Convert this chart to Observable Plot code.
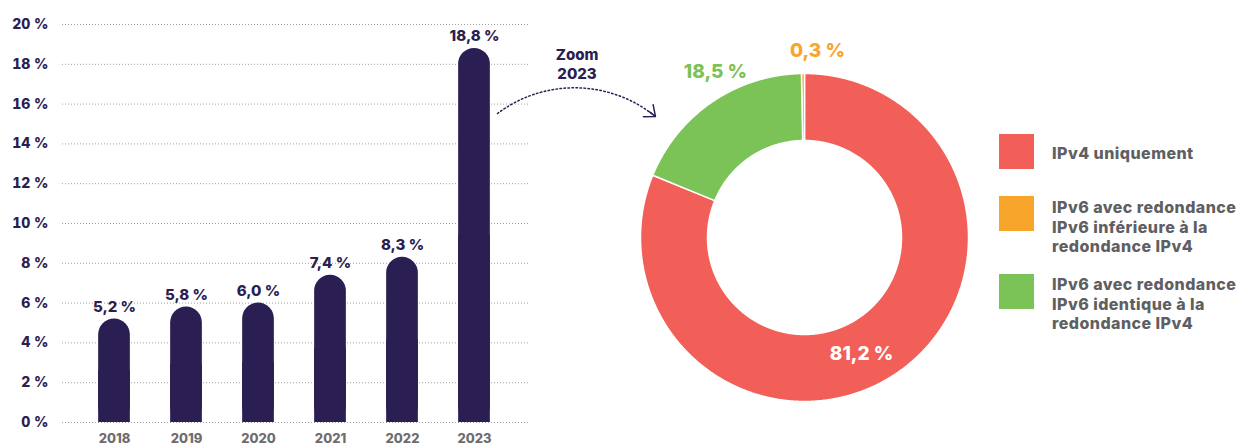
<!DOCTYPE html>
<html><head><meta charset="utf-8">
<script src="https://cdn.jsdelivr.net/npm/d3@7"></script>
<script src="https://cdn.jsdelivr.net/npm/@observablehq/plot@0.6"></script>
<style>
body{margin:0;background:#fff;font-family:Inter,"Noto Sans",sans-serif;}
#root{position:relative;width:1239px;height:448px;overflow:hidden;}
#bars{position:absolute;left:0;top:0;}
#donut{position:absolute;left:490px;top:0;}
.sw{position:absolute;left:999px;width:35px;height:35px;}
.lt{position:absolute;left:1052px;font-weight:800;font-size:16px;line-height:19.5px;color:#5f5f63;white-space:nowrap;letter-spacing:0.45px;}
</style>
</head><body><div id="root"><div id="bars"></div><div id="donut"></div><div id="legend"></div></div>
<script>
// ---- data ----
const years = ["2018", "2019", "2020", "2021", "2022", "2023"];
const shares = [5.2, 5.8, 6.0, 7.4, 8.3, 18.8];
const yTicks = [0, 2, 4, 6, 8, 10, 12, 14, 16, 18, 20];
const categories = [
  "IPv4 uniquement",
  "IPv6 avec redondance IPv6 inférieure à la redondance IPv4",
  "IPv6 avec redondance IPv6 identique à la redondance IPv4"
];
const legendLines = [
  ["IPv4 uniquement"],
  ["IPv6 avec redondance", "IPv6 inférieure à la", "redondance IPv4"],
  ["IPv6 avec redondance", "IPv6 identique à la", "redondance IPv4"]
];
const shares2023 = [81.2, 0.3, 18.5];
const catColors = ["#F15F58", "#F8A52B", "#7BC356"];
const zoomLabel = "Zoom\n2023";

// ---- layout / style ----
const FONT = "Inter, 'Noto Sans', sans-serif";
const navy = "#2A1E52";
const fmt = v => v.toFixed(1).replace(".", ",") + " %";
const labelAnchors = [[0.348, -0.707], [0.079, 1.14], [-0.543, 1.012]];
const labelFills = ["#ffffff", catColors[1], catColors[2]];
const zoomAnchor = [-1.387, 1.064];
const zoomArrow = [{x1: -1.872, y1: 0.756, x2: -0.909, y2: 0.738}];
const swatchTops = [134, 196, 274];
const textTops = [144, 198, 275];

// ---- bar chart ----
const barData = years.map((year, i) => ({year, value: shares[i]}));
const inset = 20.15;
const barPlot = Plot.plot({
  width: 530, height: 448,
  marginLeft: 62, marginRight: 2, marginTop: 24, marginBottom: 26,
  style: {fontFamily: FONT, background: "transparent", overflow: "visible"},
  x: {type: "band", domain: years, range: [77.35, 511.15], padding: 0},
  y: {domain: [0, 20]},
  marks: [
    Plot.ruleY(yTicks, {stroke: "#a0a0a0", strokeWidth: 1, strokeDasharray: "1,2"}),
    Plot.barY(barData, {x: "year", y: "value", fill: navy, rx: 16, insetLeft: inset, insetRight: inset}),
    Plot.barY(barData, {x: "year", y1: 0, y2: d => d.value / 2, fill: navy, insetLeft: inset, insetRight: inset}),
    Plot.text(barData, {x: "year", y: "value", text: d => fmt(d.value), dy: -12, fill: navy, fontSize: 15, fontWeight: 800}),
    Plot.axisY(yTicks, {tickSize: 0, tickPadding: 14, tickFormat: d => d + " %", label: null, fontSize: 14, fontWeight: 800, fill: navy}),
    Plot.axisX({tickSize: 0, tickPadding: 11, label: null, fontSize: 13, fontWeight: 800, fill: "#6d6d70"})
  ]
});
document.getElementById("bars").append(barPlot);

// ---- donut ----
const donutData = categories.map((cat, i) => ({cat, value: shares2023[i]}));
const R_IN = 97 / 164;
const arcs = d3.pie().value(d => d.value)(donutData);
const ringPts = [];
for (const a of arcs) {
  const n = Math.max(2, Math.ceil((a.endAngle - a.startAngle) / 0.005));
  const pts = [];
  for (let k = 0; k <= n; k++) {
    const t = a.startAngle + (a.endAngle - a.startAngle) * k / n;
    pts.push([Math.sin(t), Math.cos(t)]);
  }
  for (let k = n; k >= 0; k--) {
    const t = a.startAngle + (a.endAngle - a.startAngle) * k / n;
    pts.push([R_IN * Math.sin(t), R_IN * Math.cos(t)]);
  }
  pts.push(pts[0]);
  for (const [x, y] of pts) ringPts.push({cat: a.data.cat, x, y});
}
const labelData = donutData.map((d, i) => ({
  text: fmt(d.value), x: labelAnchors[i][0], y: labelAnchors[i][1], fill: labelFills[i]
}));

const donutPlot = Plot.plot({
  width: 500, height: 448, margin: 0,
  style: {fontFamily: FONT, background: "transparent", overflow: "visible"},
  x: {domain: [-1, 1], range: [150, 478], axis: null},
  y: {domain: [-1, 1], range: [401, 73], axis: null},
  color: {domain: categories, range: catColors},
  marks: [
    Plot.line(ringPts, {x: "x", y: "y", z: "cat", fill: "cat", stroke: "#ffffff", strokeWidth: 1.5, curve: "linear"}),
    Plot.text(labelData, {x: "x", y: "y", text: "text", fill: d => d.fill, fontSize: 19, fontWeight: 800}),
    Plot.text([zoomLabel], {x: zoomAnchor[0], y: zoomAnchor[1], text: d => d, fill: navy, fontSize: 15, fontWeight: 800, lineHeight: 1.27}),
    Plot.arrow(zoomArrow, {x1: "x1", y1: "y1", x2: "x2", y2: "y2", bend: 38, stroke: navy, strokeWidth: 1.5, strokeDasharray: "1.5,2.5", headLength: 0}),
    Plot.arrow(zoomArrow, {x1: "x1", y1: "y1", x2: "x2", y2: "y2", bend: 38, stroke: navy, strokeWidth: 1.5, headLength: 12, headAngle: 80, insetStart: 152})
  ]
});
document.getElementById("donut").append(donutPlot);

// ---- legend (HTML) ----
const legend = document.getElementById("legend");
categories.forEach((cat, i) => {
  const sw = document.createElement("div");
  sw.className = "sw";
  sw.style.top = swatchTops[i] + "px";
  sw.style.background = catColors[i];
  legend.append(sw);
  const t = document.createElement("div");
  t.className = "lt";
  t.style.top = textTops[i] + "px";
  t.innerHTML = legendLines[i].join("<br>");
  legend.append(t);
});
</script>
</body></html>
